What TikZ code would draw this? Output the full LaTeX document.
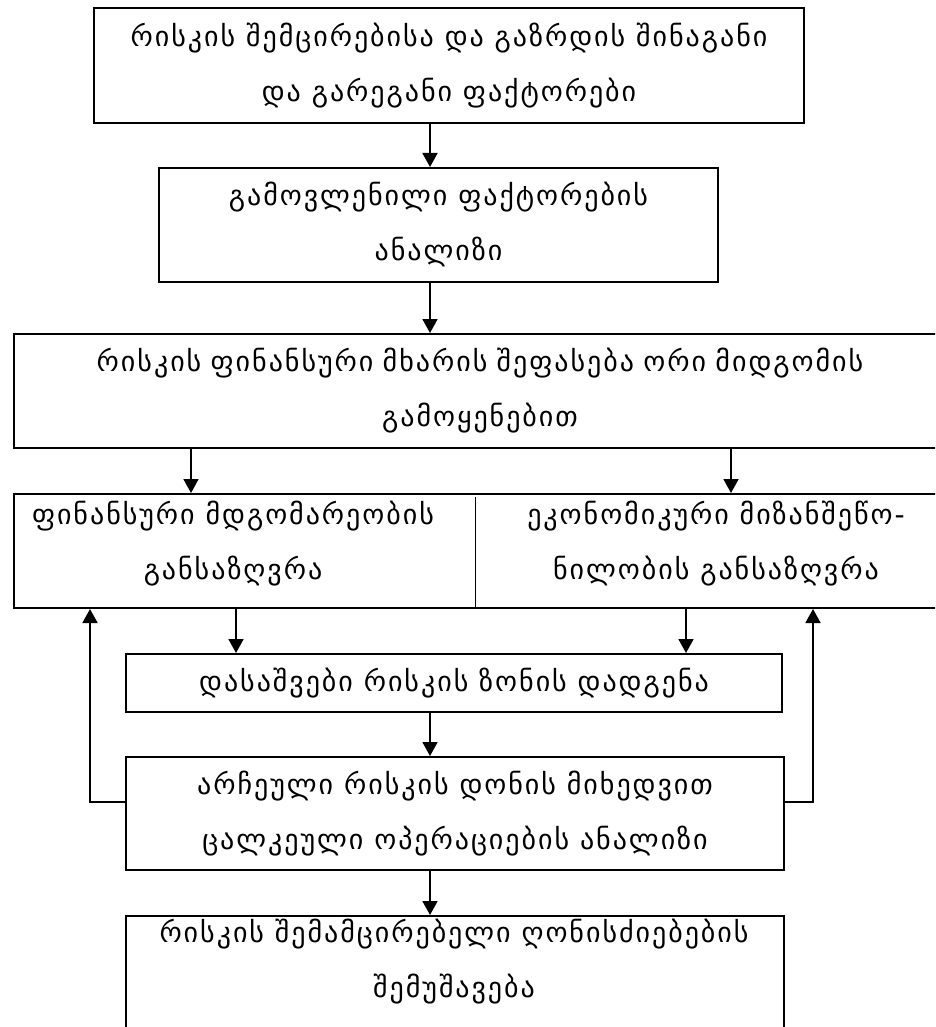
\documentclass[tikz,border=0pt]{standalone}
\usepackage{fontspec}
\setmainfont{DejaVu Sans}[LetterSpace=7]
\usetikzlibrary{arrows.meta}
\begin{document}
\begin{tikzpicture}[x=1pt,y=-1pt,
  box/.style={draw, line width=2pt, inner sep=0pt, anchor=north west, align=center,
    font=\fontsize{28}{55}\selectfont},
  txt/.style={align=center, inner sep=0pt, font=\fontsize{28}{55}\selectfont},
  arr/.style={line width=1.8pt, -{Triangle[length=14pt,width=15pt]}},
  divider/.style={line width=1pt}]
\useasboundingbox (0,0) rectangle (935,1027);
\clip (0,0) rectangle (935,1027);
\node[box, minimum width=710pt, minimum height=115pt] (b1) at (93,7)
  {რისკის შემცირებისა და გაზრდის შინაგანი\\და გარეგანი ფაქტორები};
\node[box, minimum width=559pt, minimum height=114pt] (b2) at (158,167)
  {გამოვლენილი ფაქტორების\\ანალიზი};
\node[box, minimum width=932pt, minimum height=114pt, text width=932pt] (b3) at (13,333)
  {რისკის ფინანსური მხარის შეფასება ორი მიდგომის\\გამოყენებით};
\node[box, minimum width=932pt, minimum height=114pt] (b4) at (13,493) {};
\node[txt] (fin) at (233,544) {ფინანსური მდგომარეობის\\განსაზღვრა};
\node[txt] (eco) at (716,544) {ეკონომიკური მიზანშეწო-\\ნილობის განსაზღვრა};
\node[box, minimum width=656pt, minimum height=58pt] (b5) at (125,653)
  {დასაშვები რისკის ზონის დადგენა};
\node[box, minimum width=658pt, minimum height=113pt] (b6) at (125,756)
  {არჩეული რისკის დონის მიხედვით\\ცალკეული ოპერაციების ანალიზი};
\node[box, minimum width=658pt, minimum height=130pt, anchor=north west] (b7) at (125,915)
  {};
\node[txt] (t7) at (454,962) {რისკის შემამცირებელი ღონისძიებების\\შემუშავება};
\draw[divider] ([yshift=-4pt]b4.north -| 475,0) -- (b4.south -| 475,0);
\draw[arr] (b1.south -| 430,0) -- (b2.north -| 430,0);
\draw[arr] (b2.south -| 430,0) -- (b3.north -| 430,0);
\draw[arr] (b3.south -| 191,0) -- (b4.north -| 191,0);
\draw[arr] (b3.south -| 731,0) -- (b4.north -| 731,0);
\draw[arr] (b4.south -| 236,0) -- (b5.north -| 236,0);
\draw[arr] (b4.south -| 686,0) -- (b5.north -| 686,0);
\draw[arr] (b5.south -| 430,0) -- (b6.north -| 430,0);
\draw[arr] (b6.south -| 430,0) -- (b7.north -| 430,0);
\draw[arr] (b6.west |- 0,802) -| (b4.south -| 90,0);
\draw[arr] (b6.east |- 0,802) -| (b4.south -| 813,0);
\end{tikzpicture}
\end{document}
